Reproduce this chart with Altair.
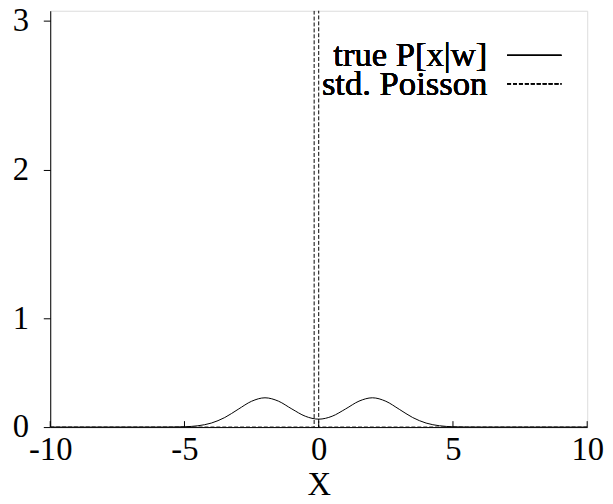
import altair as alt
import pandas as pd

# true P[x|w] (solid curve)
true_x = [-10, -6, -5.5, -5, -4.5, -4, -3.5, -3, -2.5, -2, -1.5, -1, -0.5, 0,
          0.5, 1, 1.5, 2, 2.5, 3, 3.5, 4, 4.5, 5, 5.5, 6, 10]
true_y = [0, 0.0001, 0.0006, 0.003, 0.012, 0.037, 0.088, 0.164, 0.238, 0.270, 0.239, 0.167, 0.100, 0.073,
          0.100, 0.167, 0.239, 0.270, 0.238, 0.164, 0.088, 0.037, 0.012, 0.003, 0.0006, 0.0001, 0]

# std. Poisson (dashed spike near 0)
pois_x = [-10, -0.17, -0.17, 0.0, 0.0, 10]
pois_y = [0, 0, 3.6, 3.6, 0, 0]

x_ticks = [-10, -5, 0, 5, 10]
y_ticks = [0, 1, 2, 3]

FONT = "Liberation Serif"
W, H = 543, 421

df_true = pd.DataFrame({"x": true_x, "y": true_y, "i": range(len(true_x))})
df_pois = pd.DataFrame({"x": pois_x, "y": pois_y, "i": range(len(pois_x))})
df_ticks = pd.DataFrame({"x": x_ticks})

xscale = alt.Scale(domain=[-10, 10], nice=False, zero=False)
yscale = alt.Scale(domain=[0, 1, 3.0664], range=[H, 311.3, 0], nice=False, zero=False)

xaxis = alt.Axis(values=x_ticks, tickSize=0, labelFontSize=33, labelFont=FONT, labelColor="black",
                 labelPadding=7, labelExpr="datum.value + ''",
                 title="X", titleFontSize=33, titleFont=FONT, titleFontWeight="normal",
                 titleColor="black", titlePadding=2, grid=False, domainColor="black", labelFlush=False)
yaxis = alt.Axis(values=y_ticks, tickSize=7, tickColor="black", labelFontSize=33, labelFont=FONT,
                 labelColor="black", labelPadding=15, labelExpr="datum.value + ''",
                 title=None, grid=False, domainColor="black", labelFlush=False)

true_line = alt.Chart(df_true).mark_line(color="black", strokeWidth=1, interpolate="monotone", clip=True).encode(
    x=alt.X("x:Q", scale=xscale, axis=xaxis),
    y=alt.Y("y:Q", scale=yscale, axis=yaxis),
    order="i:O",
)

pois_line = alt.Chart(df_pois).mark_line(color="black", strokeWidth=1, strokeDash=[4, 2], clip=True).encode(
    x=alt.X("x:Q", scale=xscale),
    y=alt.Y("y:Q", scale=yscale),
    order="i:O",
)

ticks = alt.Chart(df_ticks).mark_rule(color="black", strokeWidth=1).encode(
    x=alt.X("x:Q", scale=xscale),
    y=alt.value(H),
    y2=alt.value(H - 6),
)

leg_text1 = alt.Chart(df_ticks).mark_text(align="right", baseline="middle", font=FONT, fontSize=35,
                                           color="black").encode(
    x=alt.value(442), y=alt.value(45), text=alt.value("true P[x|w]"))
leg_text2 = alt.Chart(df_ticks).mark_text(align="right", baseline="middle", font=FONT, fontSize=35,
                                           color="black").encode(
    x=alt.value(442), y=alt.value(74), text=alt.value("std. Poisson"))
leg_line1 = alt.Chart(df_ticks).mark_rule(color="black", strokeWidth=1).encode(
    x=alt.value(462), x2=alt.value(517), y=alt.value(45))
leg_line2 = alt.Chart(df_ticks).mark_rule(color="black", strokeWidth=1, strokeDash=[4, 2]).encode(
    x=alt.value(462), x2=alt.value(517), y=alt.value(74))

chart = alt.layer(true_line, pois_line, ticks, leg_text1, leg_text2, leg_line1, leg_line2).properties(
    width=W, height=H,
    autosize=alt.AutoSizeParams(type="none"),
    padding={"left": 42.7, "top": 0, "right": 18, "bottom": 75},
).configure_view(stroke="black", strokeWidth=1).configure(background="white")

chart.save("out.html", embed_options={"renderer": "svg", "actions": False})
